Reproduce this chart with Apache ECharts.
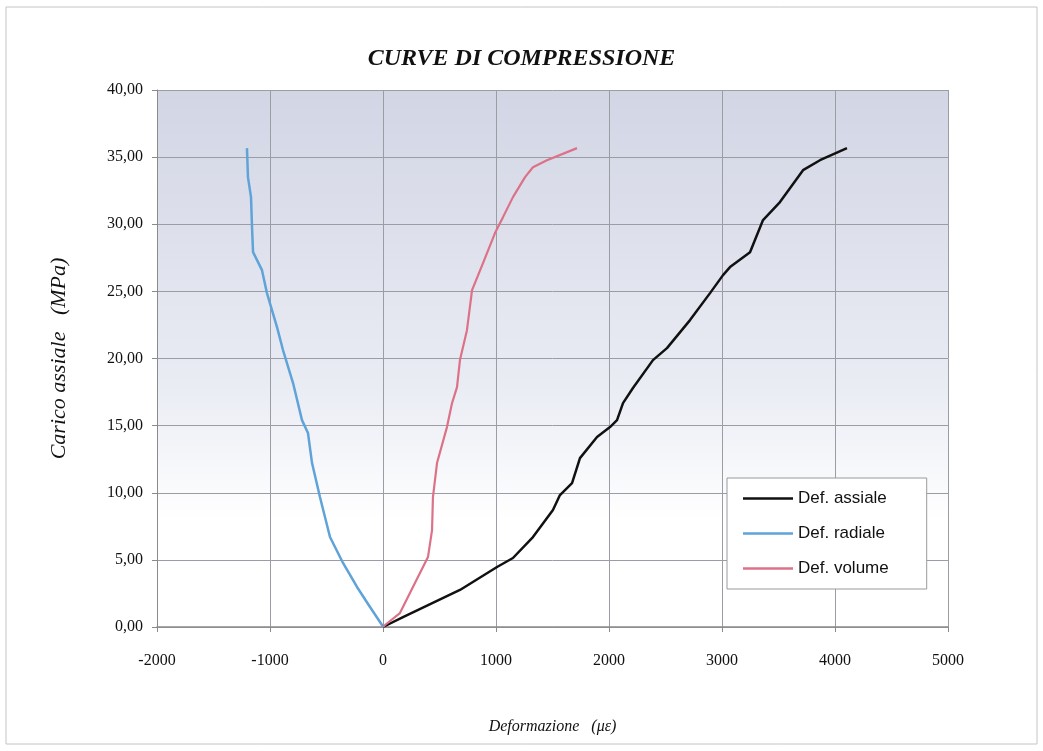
<!DOCTYPE html>
<html>
<head>
<meta charset="utf-8" />
<title>Curve di compressione</title>
<script src="https://cdn.jsdelivr.net/npm/echarts@6/dist/echarts.min.js"></script>
<style>
    html, body { margin: 0; padding: 0; background: #fff; }
    #chart { width: 1043px; height: 751px; }
</style>
</head>
<body>
<div id="chart"></div>
<script type="text/javascript">
    // [deformazione (micro-strain), carico assiale (MPa)]
    var defAssiale = [
        [0, 0], [177, 0.74], [681, 2.76], [1009, 4.47], [1150, 5.14], [1327, 6.70],
        [1504, 8.71], [1566, 9.83], [1673, 10.72], [1743, 12.58], [1894, 14.15],
        [2009, 14.89], [2071, 15.41], [2124, 16.68], [2212, 17.80], [2389, 19.88],
        [2513, 20.77], [2717, 22.86], [2894, 24.87], [3009, 26.21], [3071, 26.81],
        [3248, 27.92], [3363, 30.31], [3513, 31.65], [3717, 34.03], [3867, 34.77],
        [4106, 35.67]
    ];
    var defRadiale = [
        [0, 0], [-9, 0.15], [-115, 1.49], [-230, 2.98], [-354, 4.77], [-469, 6.70],
        [-558, 9.68], [-628, 12.21], [-664, 14.45], [-717, 15.41], [-796, 18.17],
        [-885, 20.63], [-938, 22.34], [-1027, 24.87], [-1071, 26.58], [-1150, 27.92],
        [-1159, 29.78], [-1168, 32.02], [-1195, 33.51], [-1204, 35.67]
    ];
    var defVolume = [
        [0, 0], [18, 0.15], [150, 1.04], [265, 2.98], [398, 5.21], [434, 7.22],
        [442, 9.68], [478, 12.21], [566, 14.89], [611, 16.68], [655, 17.87],
        [681, 19.88], [743, 22.11], [788, 25.09], [885, 27.10], [991, 29.34],
        [1062, 30.53], [1150, 32.02], [1257, 33.51], [1327, 34.25], [1451, 34.77],
        [1717, 35.67]
    ];
    var seriesNames = ['Def. assiale', 'Def. radiale', 'Def. volume'];
    var seriesColors = ['#111111', '#5fa3d9', '#dc7287'];

    var serif = '"Liberation Serif", "DejaVu Serif", serif';
    var chart = echarts.init(document.getElementById('chart'));

    var option = {
        backgroundColor: '#fff',
        animation: false,
        graphic: [{
            type: 'rect',
            shape: { x: 6, y: 7, width: 1031, height: 737 },
            style: { fill: 'none', stroke: '#c4c4c4', lineWidth: 1 },
            silent: true
        }],
        title: {
            text: 'CURVE DI COMPRESSIONE',
            left: 'center',
            top: 42,
            textStyle: {
                fontFamily: serif,
                fontStyle: 'italic',
                fontWeight: 'bold',
                fontSize: 24,
                color: '#111'
            }
        },
        grid: {
            left: 157,
            right: 95,
            top: 90,
            bottom: 124,
            show: true,
            borderWidth: 0,
            backgroundColor: new echarts.graphic.LinearGradient(0, 0, 0, 1, [
                { offset: 0, color: '#d2d5e4' },
                { offset: 0.55, color: '#eaecf4' },
                { offset: 0.8, color: '#ffffff' },
                { offset: 1, color: '#ffffff' }
            ])
        },
        legend: {
            data: seriesNames.map(function (n) { return { name: n, icon: 'rect' }; }),
            orient: 'vertical',
            left: 727,
            top: 478,
            padding: [12, 38, 12, 16],
            itemWidth: 50,
            itemHeight: 2.5,
            itemGap: 18,
            backgroundColor: '#fff',
            borderColor: '#9a9a9a',
            borderWidth: 1,
            textStyle: {
                fontFamily: '"Liberation Sans", Arial, sans-serif',
                fontSize: 17,
                color: '#111'
            }
        },
        xAxis: {
            type: 'value',
            min: -2000,
            max: 5000,
            interval: 1000,
            name: 'Deformazione   (με)',
            nameLocation: 'middle',
            nameGap: 92,
            nameTextStyle: {
                fontFamily: serif,
                fontStyle: 'italic',
                fontSize: 16,
                color: '#111'
            },
            axisLine: { onZero: false, lineStyle: { color: '#8a8a8a', width: 1.5 } },
            axisTick: { show: true, length: 5, lineStyle: { color: '#8a8a8a' } },
            axisLabel: {
                margin: 26,
                fontFamily: serif,
                fontSize: 16,
                color: '#111',
                formatter: function (v) { return String(v); }
            },
            splitLine: { show: true, lineStyle: { color: '#9c9ca4', width: 1 } }
        },
        yAxis: {
            type: 'value',
            min: 0,
            max: 40,
            interval: 5,
            name: 'Carico assiale   (MPa)',
            nameLocation: 'middle',
            nameGap: 87,
            nameTextStyle: {
                fontFamily: serif,
                fontStyle: 'italic',
                fontSize: 22,
                color: '#111'
            },
            axisLine: { show: true, onZero: false, lineStyle: { color: '#8a8a8a', width: 1 } },
            axisTick: { show: true, length: 5, lineStyle: { color: '#8a8a8a' } },
            axisLabel: {
                margin: 14,
                fontFamily: serif,
                fontSize: 16,
                color: '#111',
                formatter: function (v) {
                    return v.toFixed(2).replace('.', ',');
                }
            },
            splitLine: { show: true, lineStyle: { color: '#9c9ca4', width: 1 } }
        },
        series: [{
            name: seriesNames[0],
            type: 'line',
            data: defAssiale,
            symbol: 'none',
            lineStyle: { color: seriesColors[0], width: 2.5 },
            itemStyle: { color: seriesColors[0] }
        }, {
            name: seriesNames[1],
            type: 'line',
            data: defRadiale,
            symbol: 'none',
            lineStyle: { color: seriesColors[1], width: 2.5 },
            itemStyle: { color: seriesColors[1] }
        }, {
            name: seriesNames[2],
            type: 'line',
            data: defVolume,
            symbol: 'none',
            lineStyle: { color: seriesColors[2], width: 2.2 },
            itemStyle: { color: seriesColors[2] }
        }]
    };
    chart.setOption(option);
</script>
</body>
</html>
